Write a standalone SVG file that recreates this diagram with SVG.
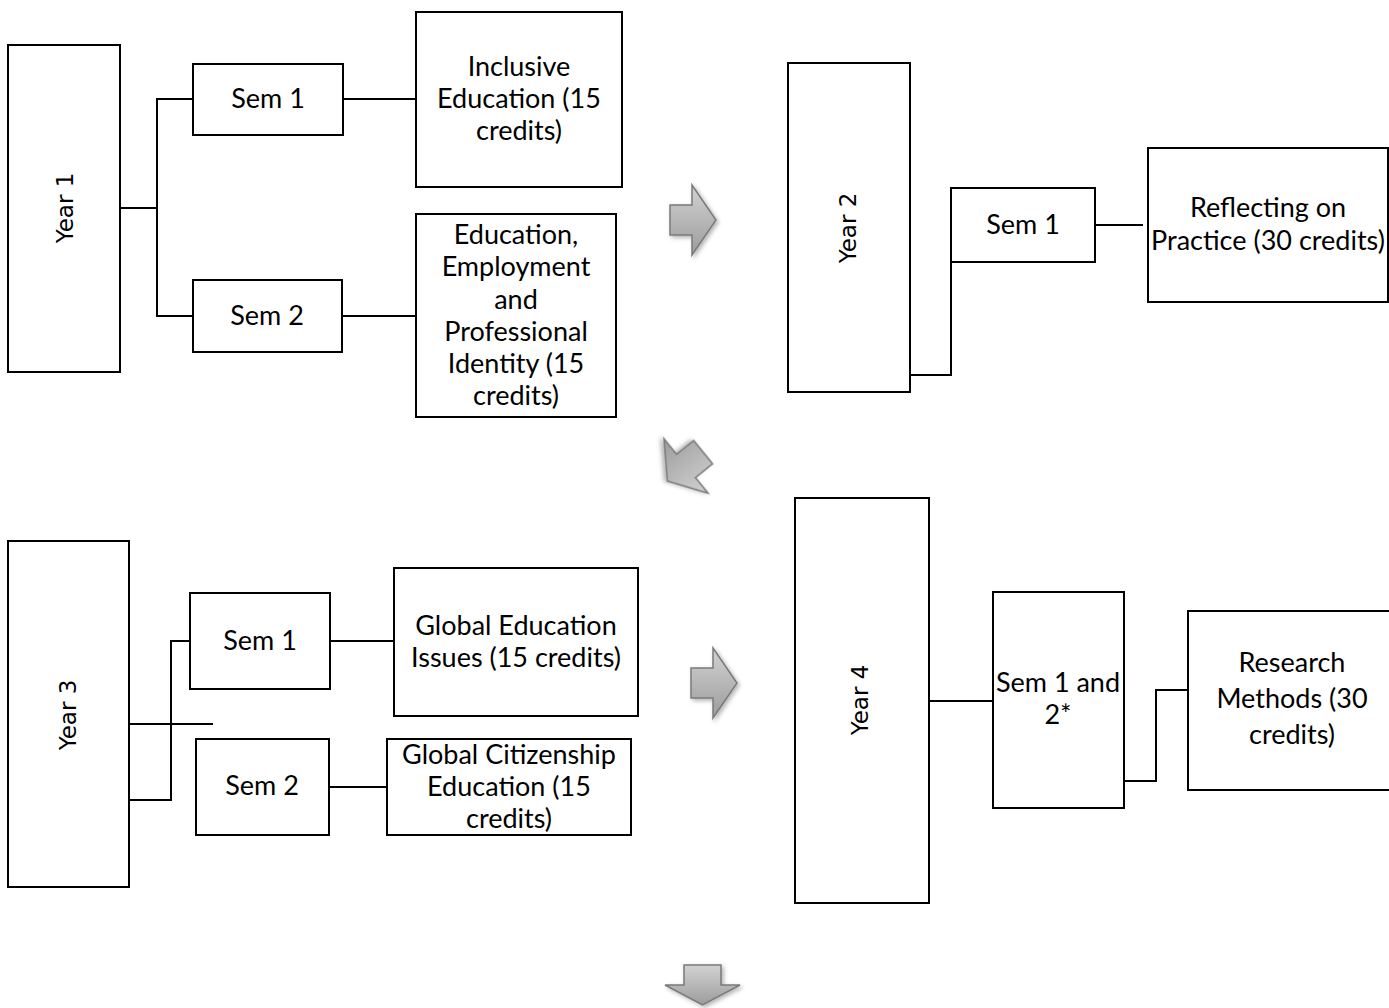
<svg xmlns="http://www.w3.org/2000/svg" xmlns:xlink="http://www.w3.org/1999/xlink" width="1389" height="1008" viewBox="0 0 1389 1008">
<defs>
<style>
.box{fill:#fff;stroke:#000;stroke-width:2}
.con{fill:none;stroke:#000;stroke-width:2}
.t{font-family:Lato,"Liberation Sans",sans-serif;font-size:27px;fill:#000;text-anchor:middle}
.yr{font-family:"DejaVu Sans",sans-serif;font-size:23px;fill:#000;text-anchor:middle}
.arrow{fill:url(#ag);stroke:#7a7a7a;stroke-width:1.5;stroke-linejoin:miter;filter:url(#sh)}
</style>
<linearGradient id="ag" x1="0" y1="0" x2="0" y2="1">
<stop offset="0" stop-color="#d2d2d2"/>
<stop offset="1" stop-color="#9c9c9c"/>
</linearGradient>
<filter id="sh" x="-30%" y="-30%" width="160%" height="160%">
<feDropShadow dx="2" dy="2" stdDeviation="2" flood-color="#000" flood-opacity="0.3"/>
</filter>
<path id="arr" d="M-22,-15 H0 V-35 L24,0 L0,35 V15 H-22 Z"/>
</defs>

<g id="connectors">
<polyline class="con" points="120,208 157,208"/>
<polyline class="con" points="193,99 157,99 157,316 193,316"/>
<line class="con" x1="343" y1="99" x2="416" y2="99"/>
<line class="con" x1="342" y1="316" x2="416" y2="316"/>
<polyline class="con" points="910,375 951,375 951,215"/>
<line class="con" x1="1095" y1="225" x2="1143" y2="225"/>
<line class="con" x1="129" y1="724" x2="213" y2="724"/>
<polyline class="con" points="129,800 171,800 171,641 190,641"/>
<line class="con" x1="330" y1="641" x2="394" y2="641"/>
<line class="con" x1="329" y1="787" x2="387" y2="787"/>
<line class="con" x1="929" y1="701" x2="993" y2="701"/>
<polyline class="con" points="1124,781 1156,781 1156,690 1188,690"/>
</g>

<g id="year1">
<rect class="box" x="8" y="45" width="112" height="327"/>
<text class="yr" transform="translate(73,208) rotate(-90)">Year 1</text>
</g>
<g id="y1sem1">
<rect class="box" x="193" y="64" width="150" height="71"/>
<text class="t" x="268" y="108">Sem 1</text>
</g>
<g id="inclusive">
<rect class="box" x="416" y="12" width="206" height="175"/>
<text class="t" x="519" y="76">Inclusive</text>
<text class="t" x="519" y="108">Education (15</text>
<text class="t" x="519" y="140">credits)</text>
</g>
<g id="y1sem2">
<rect class="box" x="193" y="280" width="149" height="72"/>
<text class="t" x="267" y="325">Sem 2</text>
</g>
<g id="employment">
<rect class="box" x="416" y="214" width="200" height="203"/>
<text class="t" x="516" y="244">Education,</text>
<text class="t" x="516" y="276">Employment</text>
<text class="t" x="516" y="309">and</text>
<text class="t" x="516" y="341">Professional</text>
<text class="t" x="516" y="373">Identity (15</text>
<text class="t" x="516" y="405">credits)</text>
</g>

<g id="year2">
<rect class="box" x="788" y="63" width="122" height="329"/>
<text class="yr" transform="translate(856,228) rotate(-90)">Year 2</text>
</g>
<g id="y2sem1">
<rect class="box" x="951" y="188" width="144" height="74"/>
<text class="t" x="1023" y="234">Sem 1</text>
</g>
<g id="reflecting">
<rect class="box" x="1148" y="148" width="240" height="154"/>
<text class="t" x="1268" y="217">Reflecting on</text>
<text class="t" x="1268" y="250">Practice (30 credits)</text>
</g>

<g id="year3">
<rect class="box" x="8" y="541" width="121" height="346"/>
<text class="yr" transform="translate(76,715) rotate(-90)">Year 3</text>
</g>
<g id="y3sem1">
<rect class="box" x="190" y="593" width="140" height="96"/>
<text class="t" x="260" y="650">Sem 1</text>
</g>
<g id="globaled">
<rect class="box" x="394" y="568" width="244" height="148"/>
<text class="t" x="516" y="635">Global Education</text>
<text class="t" x="516" y="667">Issues (15 credits)</text>
</g>
<g id="y3sem2">
<rect class="box" x="196" y="739" width="133" height="96"/>
<text class="t" x="262" y="795">Sem 2</text>
</g>
<g id="citizenship">
<rect class="box" x="387" y="739" width="244" height="96"/>
<text class="t" x="509" y="764">Global Citizenship</text>
<text class="t" x="509" y="796">Education (15</text>
<text class="t" x="509" y="828">credits)</text>
</g>

<g id="year4">
<rect class="box" x="795" y="498" width="134" height="405"/>
<text class="yr" transform="translate(868,700) rotate(-90)">Year 4</text>
</g>
<g id="y4sem">
<rect class="box" x="993" y="592" width="131" height="216"/>
<text class="t" x="1058" y="692">Sem 1 and</text>
<text class="t" x="1058" y="724">2*</text>
</g>
<g id="research">
<rect class="box" x="1188" y="611" width="204" height="179"/>
<text class="t" x="1292" y="672">Research</text>
<text class="t" x="1292" y="708">Methods (30</text>
<text class="t" x="1292" y="744">credits)</text>
</g>

<g id="arrows">
<use href="#arr" xlink:href="#arr" class="arrow" transform="translate(692,220)"/>
<use href="#arr" xlink:href="#arr" class="arrow" transform="translate(686,466) rotate(141)"/>
<use href="#arr" xlink:href="#arr" class="arrow" transform="translate(713,683)"/>
<path class="arrow" d="M684,965 H721 V985 H740 L702.5,1005 L665,985 H684 Z"/>
</g>
</svg>
